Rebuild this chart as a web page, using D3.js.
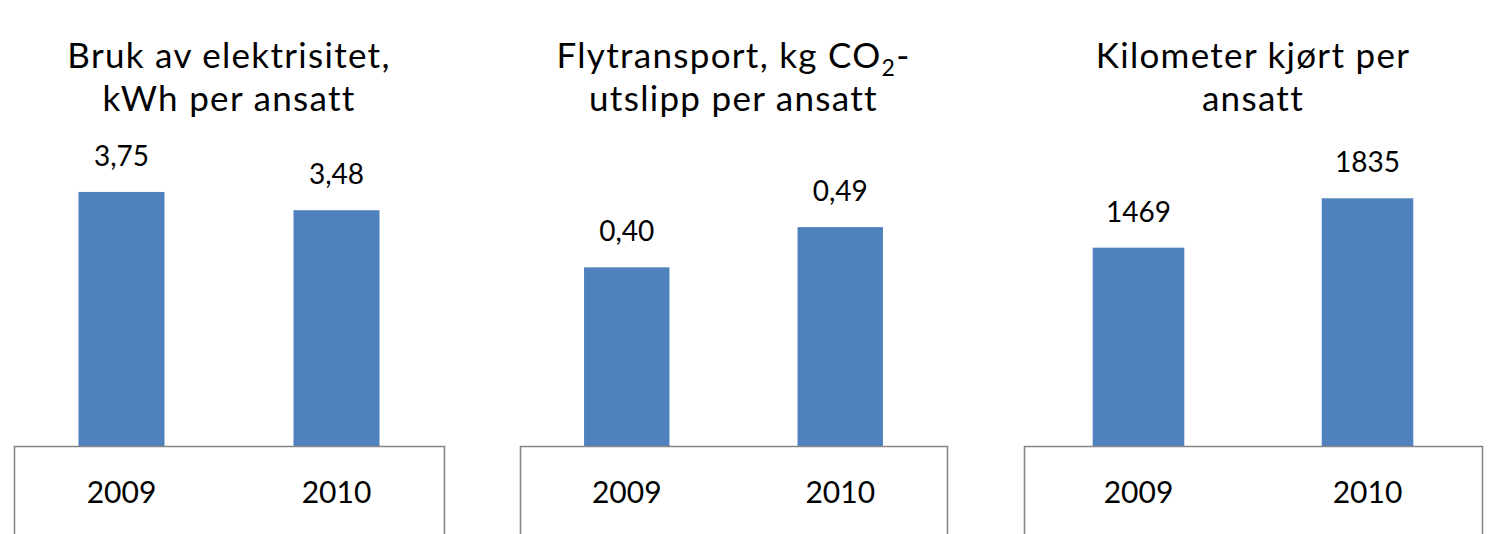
<!DOCTYPE html>
<html>
<head>
<meta charset="utf-8">
<script src="https://cdn.jsdelivr.net/npm/d3@7"></script>
<style>
  html, body { margin: 0; padding: 0; background: #fff; }
  svg { display: block; }
  text { font-family: Lato, "Open Sans", sans-serif; fill: #000; }
</style>
</head>
<body>
<svg id="chart" width="1491" height="534"></svg>
<script>
// ---- data ----
const categories = ["2009", "2010"];
const elektrisitet = [3.75, 3.48];
const flytransport = [0.40, 0.49];
const kilometer = [1469, 1835];
const valueLabels1 = ["3,75", "3,48"];
const valueLabels2 = ["0,40", "0,49"];
const valueLabels3 = ["1469", "1835"];
const titles1 = ["Bruk av elektrisitet,", "kWh per ansatt"];
const titles2 = ["Flytransport, kg CO|2|-", "utslipp per ansatt"];
const titles3 = ["Kilometer kjørt per", "ansatt"];
const yMax1 = 4, yMax2 = 0.6, yMax3 = 2000;

// ---- layout ----
const svg = d3.select("#chart");
const baseline = 446;
const panels = [
  { left: 14,   right: 444,  top: 175, max: yMax1, values: elektrisitet, labels: valueLabels1, title: titles1 },
  { left: 520,  right: 947,  top: 178, max: yMax2, values: flytransport, labels: valueLabels2, title: titles2 },
  { left: 1024, right: 1482, top: 176, max: yMax3, values: kilometer,    labels: valueLabels3, title: titles3 }
];

panels.forEach(p => {
  const g = svg.append("g");
  const x = d3.scaleBand().domain(categories).range([p.left, p.right])
    .paddingInner(0.6).paddingOuter(0.3);
  const y = d3.scaleLinear().domain([0, p.max]).range([baseline, p.top]);

  // bars
  g.selectAll("rect.bar").data(p.values).enter().append("rect")
    .attr("class", "bar")
    .attr("x", (d, i) => x(categories[i]))
    .attr("width", x.bandwidth())
    .attr("y", d => y(d))
    .attr("height", d => y(0) - y(d))
    .attr("fill", "#4F81BD");

  // value labels
  g.selectAll("text.val").data(p.values).enter().append("text")
    .attr("class", "val")
    .attr("x", (d, i) => x(categories[i]) + x.bandwidth() / 2)
    .attr("y", d => y(d) - 26)
    .attr("text-anchor", "middle")
    .style("font-size", "28px")
    .text((d, i) => p.labels[i]);

  // category axis (box shaped)
  const axis = d3.axisBottom(x).tickSizeInner(0).tickSizeOuter(120).tickPadding(36);
  const ag = g.append("g").attr("transform", `translate(0,${baseline})`).call(axis);
  ag.select(".domain").attr("stroke", "#868686").attr("stroke-width", 1.6);
  ag.selectAll(".tick line").remove();
  ag.selectAll(".tick text")
    .style("font-family", "Lato, 'Open Sans', sans-serif")
    .style("font-size", "30px").attr("fill", "#000");

  // title
  const cx = (p.left + p.right) / 2;
  p.title.forEach((line, li) => {
    const parts = line.split("|");
    const lineBaseline = li === 0 ? 68 : 111;
    const tt = g.append("text").attr("text-anchor", "middle")
      .style("font-size", "35px").style("letter-spacing", "1.3px")
      .attr("x", cx).attr("y", lineBaseline);
    if (parts.length === 1) {
      tt.text(line);
    } else {
      tt.append("tspan").text(parts[0]);
      tt.append("tspan").attr("dy", 8).style("font-size", "23px").text(parts[1]);
      tt.append("tspan").attr("dy", -8).text(parts[2]);
    }
  });
});
</script>
</body>
</html>
